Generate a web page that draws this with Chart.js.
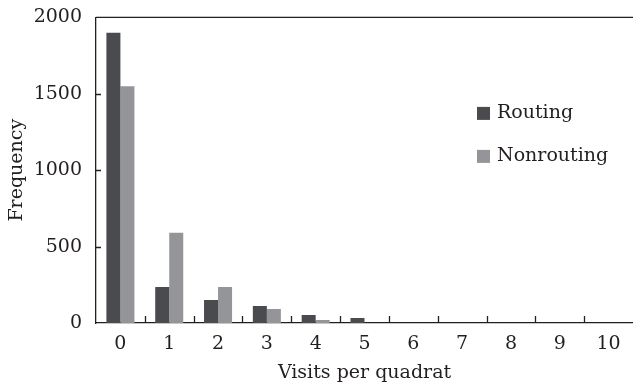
<!DOCTYPE html>
<html>
<head>
<meta charset="utf-8">
<script src="https://cdn.jsdelivr.net/npm/chart.js@4"></script>
<style>
html,body{margin:0;padding:0;background:#fff;}
#wrap{width:633px;height:388px;}
</style>
</head>
<body>
<div id="wrap"><canvas id="c" width="633" height="388"></canvas></div>
<script>
const categories = ['0','1','2','3','4','5','6','7','8','9','10'];
const routing = [1900, 235, 150, 112, 52, 33, 0, 0, 0, 0, 0];
const nonrouting = [1550, 590, 235, 92, 20, 0, 0, 0, 0, 0, 0];
const yTicks = [0, 500, 1000, 1500, 2000];
const seriesNames = ['Routing', 'Nonrouting'];
const seriesColors = ['#4a4b4e', '#939598'];

const FONT = 'DejaVu Serif';
const INK = '#231f20';

const framePlugin = {
  id: 'frame',
  afterDraw(chart) {
    const ctx = chart.ctx;
    const a = chart.chartArea;
    const xs = chart.scales.x, ys = chart.scales.y;
    ctx.save();
    ctx.strokeStyle = INK;
    ctx.lineWidth = 1.3;
    ctx.beginPath();
    ctx.moveTo(a.left, a.top);
    ctx.lineTo(a.right, a.top);
    ctx.stroke();
    ctx.beginPath();
    yTicks.forEach(v => {
      if (v === ys.min || v === ys.max) return;
      const y = Math.round(ys.getPixelForValue(v)) + 0.5;
      ctx.moveTo(a.left, y);
      ctx.lineTo(a.left + 5, y);
    });
    for (let i = 0; i < categories.length - 1; i++) {
      const x = Math.round((xs.getPixelForValue(i) + xs.getPixelForValue(i + 1)) / 2) + 0.5;
      ctx.moveTo(x, a.bottom);
      ctx.lineTo(x, a.bottom - 7);
    }
    ctx.stroke();
    ctx.font = '19px "' + FONT + '"';
    ctx.textBaseline = 'middle';
    ctx.textAlign = 'left';
    const lx = a.left + 381, ly0 = a.top + 96, gap = 43;
    chart.data.datasets.forEach((ds, i) => {
      const cy = ly0 + i * gap;
      ctx.fillStyle = ds.backgroundColor;
      ctx.fillRect(lx, cy - 6.5, 13, 13);
      ctx.fillStyle = INK;
      ctx.fillText(ds.label, lx + 20, cy);
    });
    ctx.restore();
  }
};

new Chart(document.getElementById('c'), {
  type: 'bar',
  data: {
    labels: categories,
    datasets: [
      { label: seriesNames[0], data: routing, backgroundColor: seriesColors[0], borderWidth: 0 },
      { label: seriesNames[1], data: nonrouting, backgroundColor: seriesColors[1], borderWidth: 0 }
    ]
  },
  options: {
    responsive: false,
    animation: false,
    devicePixelRatio: 1,
    layout: { padding: { top: 16, right: 0, left: 0, bottom: 0 } },
    categoryPercentage: 0.574,
    barPercentage: 1,
    plugins: { legend: { display: false }, tooltip: { enabled: false } },
    scales: {
      x: {
        grid: { display: false },
        border: { display: true, color: INK, width: 1.3 },
        ticks: { color: INK, font: { family: FONT, size: 19 }, padding: 2, maxRotation: 0 },
        title: { display: true, text: 'Visits per quadrat', color: INK, font: { family: FONT, size: 19 }, padding: { top: 4, bottom: 4 } },
        afterFit(s) { s.height = 65; }
      },
      y: {
        min: 0, max: 2000,
        afterBuildTicks(s) { s.ticks = yTicks.map(v => ({ value: v })); },
        grid: { display: false },
        border: { display: true, color: INK, width: 1.3 },
        ticks: { color: INK, font: { family: FONT, size: 19 }, padding: 6, callback: v => String(v) },
        title: { display: true, text: 'Frequency', color: INK, font: { family: FONT, size: 19 }, padding: { top: 6, bottom: 6 } },
        afterFit(s) { s.width = 96; }
      }
    }
  },
  plugins: [framePlugin]
});
</script>
</body>
</html>
